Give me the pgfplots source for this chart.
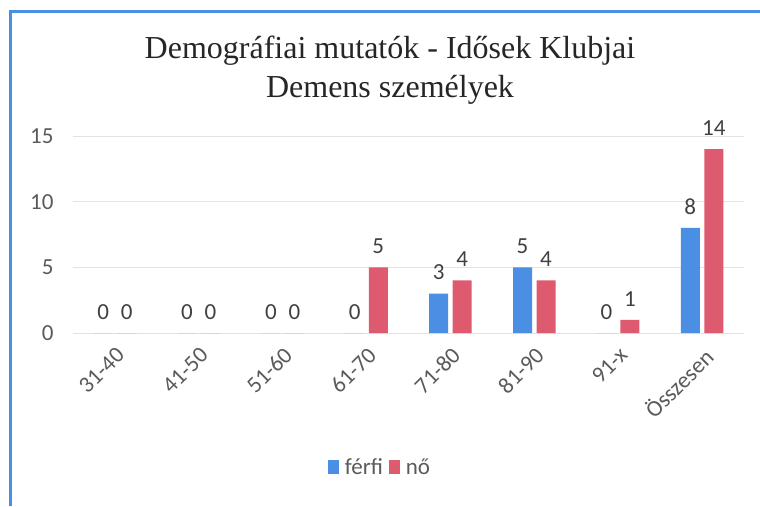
\documentclass[border=0pt]{standalone}
\usepackage{fontspec}
\setmainfont{Carlito}
\newfontfamily\titlefont{Liberation Serif}
\usepackage{pgfplots}
\pgfplotsset{compat=1.18}

\definecolor{ferfi}{HTML}{4A8FE3}
\definecolor{no}{HTML}{DE5A6E}
\definecolor{frame}{HTML}{4A90E2}
\definecolor{lbl}{HTML}{5A5A5A}

\begin{document}
\begin{tikzpicture}[x=1pt,y=1pt]
\path[use as bounding box] (0,0) rectangle (760,506);
\draw[frame,line width=3pt] (10,0) -- (10,494) -- (760,494);
\node[font=\titlefont\fontsize{32}{34}\selectfont,text=black!85] at (390,455) {Demográfiai mutatók - Idősek Klubjai};
\node[font=\titlefont\fontsize{32}{34}\selectfont,text=black!85] at (390,416) {Demens személyek};

\begin{axis}[
at={(73pt,173pt)},anchor=south west,
scale only axis,
width=671pt,height=197pt,
ybar,bar width=19pt,
xmin=-0.5,xmax=7.5,
ymin=0,ymax=15,
ytick={0,5,10,15},
xtick={0,...,7},
xticklabels={31-40,41-50,51-60,61-70,71-80,81-90,91-x,Összesen},
xticklabel style={rotate=45,anchor=north east,font=\fontsize{23}{25}\selectfont,text=lbl},
yticklabel style={font=\fontsize{23}{25}\selectfont,text=lbl},
/pgf/number format/assume math mode=true,
ymajorgrids,
grid style={gray!22,line width=0.8pt},
axis line style={draw=none},
major tick length=0pt,
xticklabel shift=8pt,
yticklabel shift=16pt,
nodes near coords,
every node near coord/.append style={font=\fontsize{23}{25}\selectfont,text=black!75,yshift=10pt},
legend style={at={(0.4575,-0.68)},anchor=center,draw=none,fill=none,
  legend columns=2,font=\fontsize{23}{25}\selectfont,text=lbl,
  /tikz/every even column/.append style={column sep=4pt}},
legend image code/.code={\fill[#1] (0pt,-7pt) rectangle (11pt,7pt); \path (15pt,0pt);},
]
\addplot[fill=ferfi,draw=none,bar shift=-11.75pt] coordinates {
(0,0)(1,0)(2,0)(3,0)(4,3)(5,5)(6,0)(7,8)
};
\addplot[fill=no,draw=none,bar shift=11.75pt] coordinates {
(0,0)(1,0)(2,0)(3,5)(4,4)(5,4)(6,1)(7,14)
};
\legend{férfi,nő}
\end{axis}
\end{tikzpicture}
\end{document}
